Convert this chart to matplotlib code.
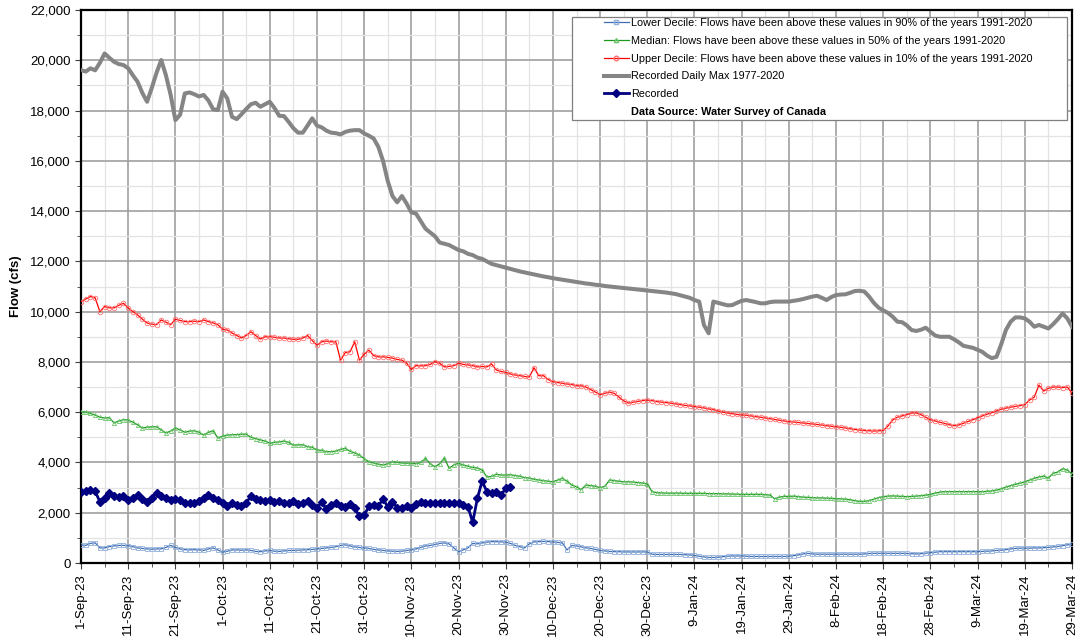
import matplotlib
matplotlib.use("Agg")
import matplotlib.pyplot as plt
from matplotlib.lines import Line2D
from matplotlib.patches import Rectangle
from matplotlib.ticker import FuncFormatter, MultipleLocator
import pandas as pd

plt.rcParams['font.family'] = ['Liberation Sans', 'DejaVu Sans']

start_date = "2023-09-01"
n_days = 211

upper_decile = [
    10400, 10500, 10600, 10550, 10000, 10200, 10150, 10150, 10250, 10330,
    10150, 10000, 9870, 9700, 9550, 9500, 9480, 9670, 9580, 9480,
    9700, 9650, 9600, 9600, 9620, 9600, 9670, 9600, 9550, 9480,
    9300, 9270, 9150, 9050, 8950, 9050, 9200, 9050, 8910, 9000,
    9000, 8980, 8950, 8950, 8920, 8900, 8900, 8950, 9050, 8850,
    8670, 8800, 8830, 8800, 8800, 8070, 8370, 8400, 8800, 8070,
    8300, 8470, 8250, 8200, 8200, 8180, 8150, 8100, 8070, 7950,
    7700, 7850, 7840, 7850, 7900, 8010, 7950, 7800, 7820, 7850,
    7950, 7900, 7880, 7850, 7800, 7820, 7800, 7920, 7680, 7620,
    7580, 7520, 7480, 7450, 7420, 7400, 7770, 7450, 7450, 7300,
    7210, 7180, 7150, 7120, 7100, 7050, 7050, 7000, 6900, 6800,
    6700, 6750, 6800, 6750, 6600, 6450, 6360, 6400, 6430, 6460,
    6480, 6460, 6420, 6400, 6380, 6360, 6330, 6300, 6270, 6250,
    6220, 6200, 6170, 6130, 6100, 6050, 6000, 5970, 5940, 5910,
    5890, 5880, 5850, 5820, 5800, 5770, 5740, 5710, 5680, 5650,
    5620, 5610, 5590, 5570, 5550, 5530, 5510, 5490, 5460, 5440,
    5420, 5400, 5370, 5340, 5310, 5290, 5270, 5260, 5250, 5260,
    5270, 5450, 5690, 5800, 5850, 5900, 5970, 5970, 5900, 5800,
    5700, 5650, 5600, 5550, 5500, 5460, 5490, 5560, 5630, 5700,
    5780, 5850, 5920, 5980, 6050, 6120, 6160, 6200, 6230, 6260,
    6300, 6480, 6600, 7080, 6840, 6950, 7000, 7000, 6980, 7000,
    6760,
]

median = [
    6020, 6000, 5950, 5890, 5800, 5770, 5780, 5570, 5650, 5700,
    5690, 5600, 5500, 5370, 5400, 5420, 5420, 5300, 5170, 5250,
    5370, 5300, 5200, 5250, 5260, 5200, 5090, 5200, 5260, 4970,
    5050, 5090, 5100, 5110, 5120, 5130, 5000, 4950, 4900, 4850,
    4770, 4800, 4820, 4850, 4800, 4690, 4700, 4700, 4630, 4600,
    4500, 4480, 4430, 4430, 4450, 4520, 4560, 4450, 4380, 4300,
    4150, 4030, 3980, 3930, 3900, 3950, 4030, 4000, 3980, 3970,
    3970, 3950, 4000, 4160, 3950, 3830, 3950, 4180, 3770, 3900,
    3970, 3900, 3850, 3800, 3780, 3700, 3420, 3450, 3530, 3500,
    3500, 3510, 3480, 3450, 3400, 3380, 3330, 3300, 3280, 3250,
    3230, 3300, 3370, 3250, 3100, 3030, 2920, 3100, 3080, 3050,
    3000, 3050, 3300, 3280, 3250, 3230, 3230, 3220, 3200, 3180,
    3150, 2840, 2800, 2790, 2780, 2780, 2780, 2780, 2770, 2770,
    2770, 2770, 2770, 2760, 2760, 2760, 2750, 2750, 2740, 2740,
    2730, 2730, 2730, 2730, 2730, 2720, 2700, 2550, 2620, 2650,
    2650, 2660, 2640, 2620, 2610, 2600, 2590, 2590, 2580, 2570,
    2560, 2550, 2540, 2520, 2480, 2450, 2450, 2480, 2540, 2600,
    2640, 2660, 2670, 2660, 2650, 2640, 2650, 2660, 2680, 2700,
    2730, 2780, 2820, 2840, 2840, 2840, 2840, 2840, 2840, 2840,
    2840, 2840, 2850, 2870, 2900, 2950, 3020, 3080, 3130, 3180,
    3230, 3300, 3370, 3420, 3460, 3380, 3570, 3620, 3750, 3700,
    3540,
]

lower_decile = [
    720, 700, 780, 800, 600, 600, 650, 680, 700, 700,
    690, 650, 600, 580, 560, 550, 560, 560, 620, 700,
    620, 560, 530, 520, 530, 520, 500, 560, 600, 520,
    430, 470, 520, 520, 510, 520, 500, 460, 450, 480,
    500, 470, 460, 480, 500, 500, 510, 520, 530, 540,
    560, 580, 600, 620, 650, 700, 720, 680, 640, 620,
    600, 580, 540, 520, 500, 480, 470, 460, 470, 500,
    520, 560, 620, 680, 700, 740, 780, 800, 760, 600,
    450, 520, 600, 780, 760, 800, 830, 850, 850, 840,
    830, 780, 700, 650, 600, 760, 840, 850, 860, 850,
    840, 820, 800, 520, 700, 680, 640, 600, 580, 540,
    500, 480, 460, 450, 450, 440, 440, 440, 440, 440,
    440, 350, 340, 340, 340, 340, 340, 340, 330, 320,
    300, 270, 240, 220, 220, 230, 250, 270, 280, 280,
    280, 270, 260, 260, 260, 260, 260, 260, 260, 260,
    270, 290, 320, 360, 385, 360, 350, 350, 350, 350,
    350, 350, 350, 350, 350, 350, 360, 380, 385, 385,
    385, 385, 385, 385, 385, 380, 370, 360, 370, 390,
    410, 430, 450, 450, 450, 450, 450, 450, 450, 450,
    450, 460, 470, 480, 500, 510, 530, 560, 580, 590,
    590, 590, 600, 600, 610, 620, 640, 660, 690, 720,
    750,
]

daily_max = [
    19610, 19550, 19680, 19600, 19900, 20270, 20100, 19940, 19850, 19810,
    19680, 19400, 19140, 18700, 18350, 18900, 19500, 20010, 19400, 18620,
    17620, 17830, 18680, 18720, 18650, 18560, 18620, 18400, 18050, 18020,
    18750, 18480, 17750, 17660, 17850, 18060, 18250, 18310, 18150, 18250,
    18350, 18100, 17790, 17780, 17550, 17300, 17120, 17120, 17400, 17690,
    17400, 17330, 17200, 17120, 17100, 17050, 17150, 17200, 17220, 17220,
    17090, 17000, 16890, 16560, 16000, 15200, 14600, 14350, 14600, 14300,
    13950, 13900, 13600, 13300, 13150, 13000, 12750, 12700, 12650, 12550,
    12450, 12400, 12300, 12250, 12150, 12100, 12000, 11900, 11850, 11800,
    11750, 11700, 11650, 11600, 11560, 11520, 11480, 11440, 11400, 11370,
    11330, 11300, 11270, 11240, 11210, 11180, 11150, 11120, 11100, 11070,
    11050, 11020, 11000, 10980, 10960, 10940, 10920, 10900, 10880, 10860,
    10840, 10820, 10800, 10780, 10760, 10730, 10700, 10650, 10600, 10550,
    10460, 10400, 9470, 9140, 10400, 10350, 10300, 10250, 10260, 10350,
    10430, 10460, 10420, 10380, 10330, 10330, 10380, 10400, 10400, 10400,
    10400, 10430, 10460, 10500, 10550, 10600, 10630, 10550, 10460, 10580,
    10660, 10680, 10690, 10750, 10820, 10830, 10800, 10600, 10350, 10160,
    10050, 9950, 9800, 9600, 9580, 9450, 9270, 9230, 9280, 9360,
    9200, 9050, 9000, 9000, 9000, 8900, 8780, 8640, 8600, 8560,
    8480, 8400, 8250, 8150, 8200, 8700, 9270, 9600, 9770, 9770,
    9730, 9600, 9400, 9470, 9400, 9330, 9500, 9700, 9930, 9730,
    9400,
]

recorded = [
    2840, 2850, 2900, 2850, 2440, 2600, 2780, 2650, 2640, 2660,
    2510, 2600, 2700, 2550, 2410, 2600, 2780, 2650, 2600, 2510,
    2550, 2500, 2370, 2380, 2400, 2450, 2600, 2700, 2600, 2500,
    2400, 2270, 2370, 2300, 2270, 2400, 2650, 2550, 2500, 2450,
    2500, 2420, 2450, 2400, 2400, 2450, 2350, 2400, 2450, 2300,
    2170, 2440, 2140, 2300, 2400, 2250, 2240, 2350, 2200, 1850,
    1900, 2250, 2300, 2270, 2540, 2240, 2440, 2200, 2170, 2250,
    2200, 2350, 2440, 2370, 2380, 2380, 2380, 2390, 2380, 2370,
    2380, 2300, 2240, 1620, 2570, 3260, 2840, 2800, 2830, 2700,
    2970, 3040,
]

tick_labels = ["1-Sep-23", "11-Sep-23", "21-Sep-23", "1-Oct-23", "11-Oct-23",
               "21-Oct-23", "31-Oct-23", "10-Nov-23", "20-Nov-23", "30-Nov-23",
               "10-Dec-23", "20-Dec-23", "30-Dec-23", "9-Jan-24", "19-Jan-24",
               "29-Jan-24", "8-Feb-24", "18-Feb-24", "28-Feb-24", "9-Mar-24",
               "19-Mar-24", "29-Mar-24"]

labels = ["Lower Decile: Flows have been above these values in 90% of the years 1991-2020",
          "Median: Flows have been above these values in 50% of the years 1991-2020",
          "Upper Decile: Flows have been above these values in 10% of the years 1991-2020",
          "Recorded Daily Max 1977-2020",
          "Recorded",
          "Data Source: Water Survey of Canada"]

dates = pd.date_range(start_date, periods=n_days, freq="D")
rec_dates = dates[:len(recorded)]

W, H = 1077, 637
fig = plt.figure(figsize=(W / 100, H / 100), dpi=100)
L, R, B, T = 81, 1072, 563, 10
ax = fig.add_axes([L / W, 1 - B / H, (R - L) / W, (B - T) / H])

c_low_line, c_low_mk = "#3E6DB0", "#8FAEDB"
c_med_line, c_med_mk = "#1E9A1E", "#6CC46C"
c_up_line, c_up_mk = "#FF0000", "#FF7070"
c_max = "#858585"
c_rec = "#000080"

ax.plot(dates, daily_max, color=c_max, lw=2.9, zorder=3, solid_joinstyle="round")
ax.plot(dates, upper_decile, color=c_up_line, lw=0.9, marker="o", ms=3.3, mfc="none",
        mec=c_up_mk, mew=0.6, zorder=4)
ax.plot(dates, median, color=c_med_line, lw=0.9, marker="^", ms=3.0, mfc="none",
        mec=c_med_mk, mew=0.6, zorder=4)
ax.plot(dates, lower_decile, color=c_low_line, lw=0.9, marker="s", ms=3.3, mfc="none",
        mec=c_low_mk, mew=0.6, zorder=4)
ax.plot(rec_dates, recorded, color=c_rec, lw=2.0, marker="D", ms=3.6, mfc=c_rec,
        mec=c_rec, zorder=5)

ax.set_xlim(dates[0], dates[-1])
ax.set_ylim(0, 22000)

tick_dates = dates[::10]
minor_dates = dates[5::10]
ax.set_xticks(tick_dates)
ax.set_xticklabels(tick_labels, rotation=90, fontsize=9.5)
ax.set_xticks(minor_dates, minor=True)
ax.yaxis.set_major_locator(MultipleLocator(2000))
ax.yaxis.set_minor_locator(MultipleLocator(1000))
ax.yaxis.set_major_formatter(FuncFormatter(lambda v, p: f"{int(v):,}"))
ax.tick_params(axis="y", labelsize=9.5)
ax.tick_params(which="major", direction="out", length=4, width=0.8, color="#404040")
ax.tick_params(which="minor", direction="out", length=3, width=0.6, color="#404040")

ax.grid(which="major", color="#A0A0A0", lw=1.2, zorder=0)
ax.grid(which="minor", color="#E3E3E3", lw=0.9, zorder=0)
ax.set_axisbelow(True)
for s in ax.spines.values():
    s.set_linewidth(1.6)
    s.set_color("black")

ax.set_ylabel("Flow (cfs)", fontsize=9.5, fontweight="bold", labelpad=6)

# legend box
x0 = (572 - L) / (R - L)
x1 = (1067 - L) / (R - L)
y0 = (B - 120) / (B - T)
y1 = (B - 17) / (B - T)
ax.add_patch(Rectangle((x0, y0), x1 - x0, y1 - y0, transform=ax.transAxes,
                       facecolor="white", edgecolor="#7F7F7F", lw=0.9, zorder=6,
                       clip_on=False))

handles = [
    Line2D([], [], color=c_low_line, lw=0.9, marker="s", ms=3.3, mfc="none", mec=c_low_mk),
    Line2D([], [], color=c_med_line, lw=0.9, marker="^", ms=3.0, mfc="none", mec=c_med_mk),
    Line2D([], [], color=c_up_line, lw=0.9, marker="o", ms=3.3, mfc="none", mec=c_up_mk),
    Line2D([], [], color=c_max, lw=2.9),
    Line2D([], [], color=c_rec, lw=2.0, marker="D", ms=3.6, mfc=c_rec, mec=c_rec),
    Line2D([], [], color="none", lw=0),
]
leg = ax.legend(handles, labels, loc="upper left",
                bbox_to_anchor=((604 - L) / (R - L), (B - 18) / (B - T)),
                frameon=False, fontsize=7.8, handlelength=2.3, handletextpad=0.2,
                labelspacing=0.72, borderpad=0.0, borderaxespad=0.0, markerscale=1.0)
leg.set_zorder(7)
leg.get_texts()[-1].set_fontweight("bold")

fig.savefig("out.png", dpi=100, facecolor="white")
